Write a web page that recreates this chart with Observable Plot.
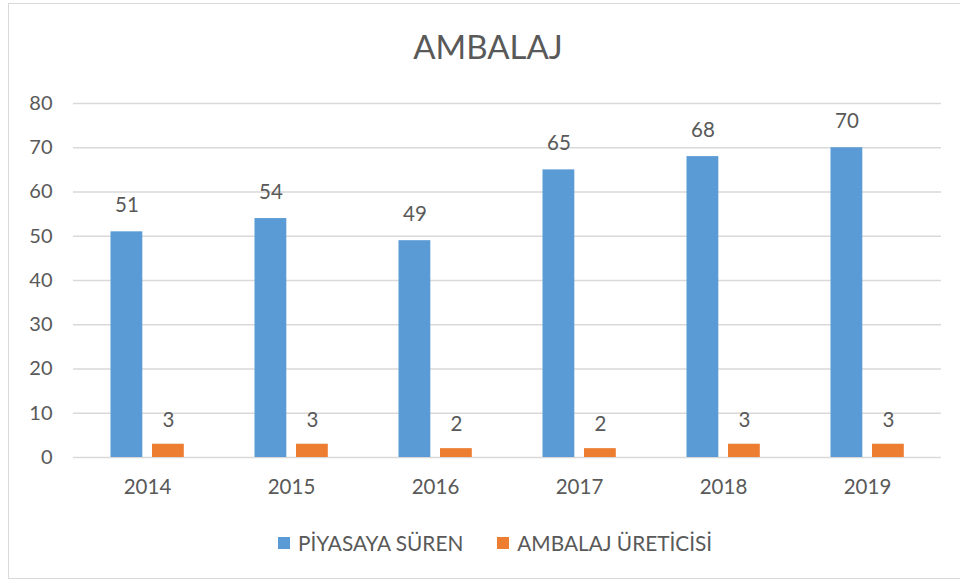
<!DOCTYPE html>
<html>
<head>
<meta charset="utf-8">
<script src="https://cdn.jsdelivr.net/npm/d3@7"></script>
<script src="https://cdn.jsdelivr.net/npm/@observablehq/plot@0.6"></script>
<style>
  html, body { margin: 0; padding: 0; background: #fff; }
  #wrap { position: relative; width: 960px; height: 583px; overflow: hidden; font-family: Lato, "Open Sans", sans-serif; color: #595959; }
  #frame { position: absolute; left: 8px; top: 3px; width: 960px; height: 576px; border: 1.5px solid #D9D9D9; box-sizing: border-box; }
  #title { position: absolute; left: 0; width: 976px; top: 26px; text-align: center; font-size: 33px; line-height: 40px; color: #595959; }
  #chart { position: absolute; left: 0; top: 0; }
  #legend { position: absolute; top: 532px; left: 278px; font-size: 20.8px; line-height: 22px; white-space: nowrap; display: flex; align-items: center; }
  .sw { display: inline-block; width: 12px; height: 12px; margin-right: 8px; }
  .item { display: flex; align-items: center; margin-right: 34px; }
</style>
</head>
<body>
<div id="wrap">
  <div id="frame"></div>
  <div id="chart"></div>
  <div id="title">AMBALAJ</div>
  <div id="legend"></div>
</div>
<script>
const years = ["2014", "2015", "2016", "2017", "2018", "2019"];
const seriesNames = ["PİYASAYA SÜREN", "AMBALAJ ÜRETİCİSİ"];
const piyasayaSuren = [51, 54, 49, 65, 68, 70];
const ambalajUreticisi = [3, 3, 2, 2, 3, 3];
const yTicks = [0, 10, 20, 30, 40, 50, 60, 70, 80];
const colors = ["#5B9BD5", "#ED7D31"];

const blueData = years.map((y, i) => ({year: y, value: piyasayaSuren[i]}));
const orangeData = years.map((y, i) => ({year: y, value: ambalajUreticisi[i]}));

const chart = Plot.plot({
  width: 960,
  height: 583,
  marginLeft: 73,
  marginRight: 19,
  marginTop: 103,
  marginBottom: 126,
  style: {fontFamily: "Lato, 'Open Sans', sans-serif", fontSize: "20px", color: "#595959", background: "transparent", overflow: "visible"},
  x: {domain: years, padding: 0, label: null},
  y: {domain: [0, 80], label: null},
  marks: [
    Plot.ruleY(yTicks, {stroke: "#D9D9D9", strokeWidth: 1.3}),
    Plot.axisY(yTicks, {tickSize: 0, tickPadding: 21, fontSize: 20, fill: "#595959"}),
    Plot.axisX({tickSize: 0, tickPadding: 22, fontSize: 20.5, fill: "#595959"}),
    Plot.barY(blueData, {x: "year", y: "value", fill: colors[0], insetLeft: 35.5, insetRight: 76.7}),
    Plot.barY(orangeData, {x: "year", y: "value", fill: colors[1], insetLeft: 77, insetRight: 35.2}),
    Plot.text(blueData, {x: "year", y: "value", text: d => String(d.value), dx: -20.6, dy: -26, fontSize: 20.5, fill: "#595959"}),
    Plot.text(orangeData, {x: "year", y: "value", text: d => String(d.value), dx: 20.9, dy: -24, fontSize: 20.5, fill: "#595959"})
  ]
});
document.getElementById("chart").appendChild(chart);

const legend = document.getElementById("legend");
seriesNames.forEach((name, i) => {
  const item = document.createElement("span");
  item.className = "item";
  const sw = document.createElement("span");
  sw.className = "sw";
  sw.style.background = colors[i];
  item.appendChild(sw);
  item.appendChild(document.createTextNode(name));
  legend.appendChild(item);
});
</script>
</body>
</html>
